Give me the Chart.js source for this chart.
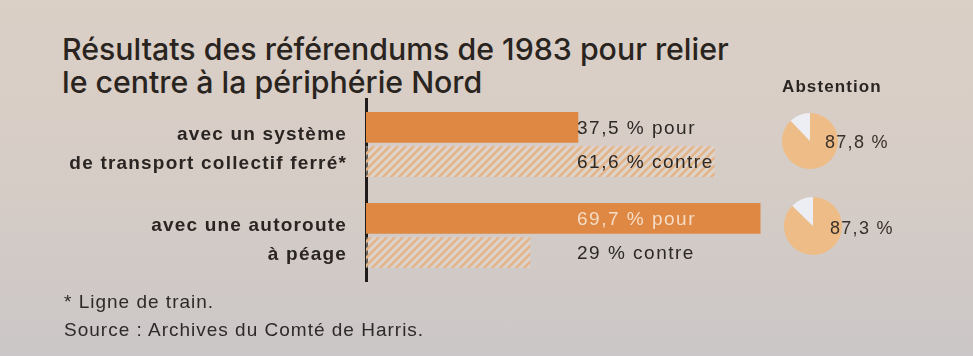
<!DOCTYPE html>
<html lang="fr">
<head>
<meta charset="utf-8">
<title>Référendums de 1983</title>
<script src="https://cdn.jsdelivr.net/npm/chart.js@4/dist/chart.umd.min.js"></script>
<style>
  html, body { margin: 0; padding: 0; }
  body {
    width: 973px; height: 356px; position: relative; overflow: hidden;
    background: linear-gradient(180deg, #dbd0c6 0%, #d5ccc6 55%, #cbc6c7 100%);
    font-family: "Liberation Sans", Arial, sans-serif; color: #2a2522;
  }
  #title {
    position: absolute; left: 62px; top: 33px; margin: 0;
    font-family: Inter, "Noto Sans", sans-serif; font-weight: 500;
    font-size: 30.3px; line-height: 33px; color: #2a2420; letter-spacing: 0;
  }
  #bars { position: absolute; left: 0; top: 0; }
  .abst-head {
    position: absolute; left: 782px; top: 77px;
    font-weight: bold; font-size: 17px; letter-spacing: 1.1px; color: #2a2522;
  }
  .pie { position: absolute; }
  .pie-label {
    position: absolute; font-size: 18px; letter-spacing: 1.3px; color: #3a302a;
    transform: translateY(-50%);
  }
  .notes {
    position: absolute; left: 64px; top: 288px;
    font-size: 19px; line-height: 28px; letter-spacing: 1px; color: #2e2a28;
  }
</style>
</head>
<body>
<h1 id="title">Résultats des référendums de 1983 pour relier<br>le centre à la périphérie Nord</h1>
<canvas id="bars" width="973" height="356"></canvas>
<div class="abst-head">Abstention</div>
<canvas class="pie" id="pie0" width="56" height="56" style="left:782px;top:113px"></canvas>
<canvas class="pie" id="pie1" width="58" height="58" style="left:784px;top:197px"></canvas>
<div class="pie-label" id="pl0" style="left:825px;top:142px"></div>
<div class="pie-label" id="pl1" style="left:830px;top:228px"></div>
<div class="notes">* Ligne de train.<br>Source : Archives du Comté de Harris.</div>

<script>
// Referendum questions (axis labels, one array of lines per question)
const categories = [
  ["avec un système", "de transport collectif ferré*"],
  ["avec une autoroute", "à péage"]
];
// Share of votes, in %
const pourValues = [37.5, 69.7];
const contreValues = [61.6, 29];
// Abstention rate per referendum, in %
const abstentionValues = [87.8, 87.3];

const ORANGE = '#de8843';
const PIE_ORANGE = '#eebd87';
const PIE_LIGHT = '#eceef3';

const fmt = v => v.toLocaleString('fr-FR');

// Diagonal hatching for the "contre" bars
function makeHatch() {
  const s = 8;
  const c = document.createElement('canvas');
  c.width = s; c.height = s;
  const g = c.getContext('2d');
  g.fillStyle = 'rgba(238, 226, 214, 0.35)';
  g.fillRect(0, 0, s, s);
  g.strokeStyle = '#e4b487';
  g.lineWidth = 2.4;
  g.beginPath();
  g.moveTo(0, s); g.lineTo(s, 0);
  g.moveTo(-2, 2); g.lineTo(2, -2);
  g.moveTo(s - 2, s + 2); g.lineTo(s + 2, s - 2);
  g.stroke();
  return g.createPattern(c, 'repeat');
}

// Value labels written in a column to the right of the axis;
// a label that falls inside a solid bar is written in a light colour
const valueLabels = {
  id: 'valueLabels',
  afterDatasetsDraw(chart) {
    const ctx = chart.ctx;
    const left = chart.chartArea.left;
    const suffixes = [' % pour', ' % contre'];
    ctx.save();
    ctx.font = '19px "Liberation Sans", Arial, sans-serif';
    ctx.letterSpacing = '1.5px';
    ctx.textBaseline = 'middle';
    ctx.textAlign = 'left';
    chart.data.datasets.forEach((ds, di) => {
      const meta = chart.getDatasetMeta(di);
      meta.data.forEach((bar, i) => {
        const text = fmt(ds.data[i]) + suffixes[di];
        const x = left + 211;
        const w = ctx.measureText(text).width;
        const inside = di === 0 && bar.x > x + w;
        ctx.fillStyle = inside ? '#f5dcc5' : '#2c2826';
        ctx.fillText(text, x, bar.y + 1);
      });
    });
    ctx.restore();
  }
};

// Wider tracking for the axis labels
const tracking = {
  id: 'tracking',
  beforeDraw(chart) { chart.ctx.letterSpacing = '1.2px'; }
};

new Chart(document.getElementById('bars'), {
  type: 'bar',
  data: {
    labels: categories,
    datasets: [
      { label: 'pour', data: pourValues, backgroundColor: ORANGE,
        categoryPercentage: 0.75, barPercentage: 0.9 },
      { label: 'contre', data: contreValues, backgroundColor: makeHatch(),
        categoryPercentage: 0.75, barPercentage: 0.9 }
    ]
  },
  options: {
    indexAxis: 'y',
    responsive: false,
    animation: false,
    devicePixelRatio: 1,
    layout: { padding: { top: 99, bottom: 75, left: 0, right: 41 } },
    plugins: { legend: { display: false }, tooltip: { enabled: false } },
    scales: {
      x: { min: 0, max: 100, display: false },
      y: {
        grid: { display: false, drawTicks: false },
        border: { display: true, color: '#1e1b1a', width: 3 },
        ticks: {
          color: '#2a2522',
          padding: 19,
          labelOffset: 5,
          font: { family: '"Liberation Sans", Arial, sans-serif', size: 19, weight: 'bold', lineHeight: 1.5 }
        },
        afterFit(scale) { scale.width = 366; }
      }
    }
  },
  plugins: [valueLabels, tracking]
});

// Abstention pies
abstentionValues.forEach((v, i) => {
  new Chart(document.getElementById('pie' + i), {
    type: 'pie',
    data: {
      labels: ['abstention', 'votants'],
      datasets: [{ data: [v, 100 - v], backgroundColor: [PIE_ORANGE, PIE_LIGHT], borderWidth: 0 }]
    },
    options: {
      responsive: false, animation: false, devicePixelRatio: 1,
      plugins: { legend: { display: false }, tooltip: { enabled: false } }
    }
  });
  document.getElementById('pl' + i).textContent = fmt(v) + ' %';
});
</script>
</body>
</html>
